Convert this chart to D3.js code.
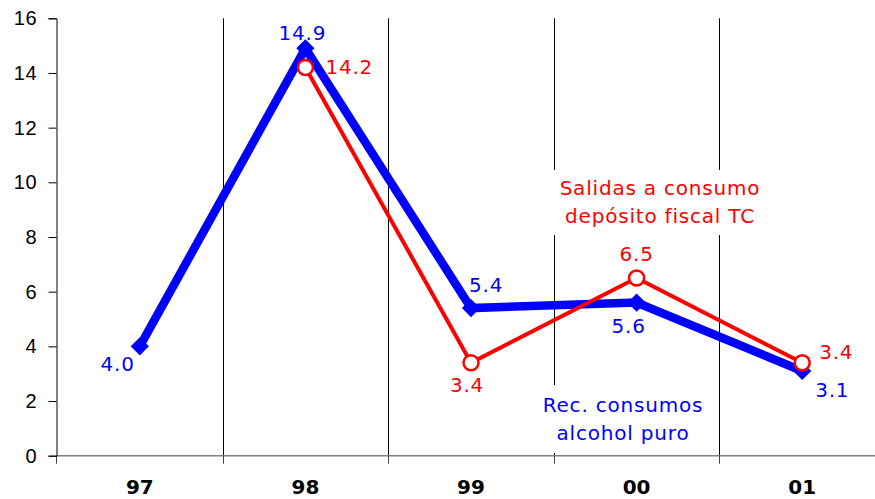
<!DOCTYPE html>
<html>
<head>
<meta charset="utf-8">
<script src="https://cdn.jsdelivr.net/npm/d3@7"></script>
<style>
  html, body { margin: 0; padding: 0; background: #fff; }
  svg { display: block; font-family: "DejaVu Sans", Verdana, sans-serif; }
  .tick text { font-size: 20px; fill: #000; letter-spacing: 0.8px; }
  .lbl { font-size: 20px; letter-spacing: 0.8px; }
</style>
</head>
<body>
<svg id="chart" width="875" height="499"></svg>
<script>
// --- Data ---
const years = ["97", "98", "99", "00", "01"];
const recConsumos = [4.0, 14.9, 5.4, 5.6, 3.1];      // blue
const salidasConsumo = [null, 14.2, 3.4, 6.5, 3.4];  // red
const yTicks = [0, 2, 4, 6, 8, 10, 12, 14, 16];

// label offsets relative to the point: [dx, dy, anchor]
const blueLabelPos = [[-5, 25, "end"], [-3, -8, "middle"], [-2, -16, "start"], [-8, 30, "middle"], [13, 26, "start"]];
const redLabelPos = [null, [20, 6, "start"], [-4, 29, "middle"], [0, -17, "middle"], [17, -4, "start"]];

const BLUE = "#0000ff";
const RED = "#ff0000";

// --- Scales ---
const svg = d3.select("#chart");
const x = d3.scaleBand().domain(years).range([57, 885]);
const y = d3.scaleLinear().domain([0, 16]).range([455.7, 18.3]);
const cx = d => x(d) + x.bandwidth() / 2;

// vertical separators between categories
const bounds = years.slice(1).map(d => Math.round(x(d)) + 0.5);
svg.append("g").selectAll("line")
    .data(bounds)
    .enter().append("line")
    .attr("x1", d => d).attr("x2", d => d)
    .attr("y1", y(16)).attr("y2", y(0))
    .attr("stroke", "#000").attr("stroke-width", 1);

// x axis (ticks at category boundaries, below the zero line)
svg.append("line")
    .attr("x1", 57).attr("x2", 875)
    .attr("y1", y(0)).attr("y2", y(0))
    .attr("stroke", "#808080").attr("stroke-width", 1.5);
svg.append("g").selectAll("line")
    .data([56.5].concat(bounds))
    .enter().append("line")
    .attr("x1", d => d).attr("x2", d => d)
    .attr("y1", y(0)).attr("y2", y(0) + 8)
    .attr("stroke", "#444").attr("stroke-width", 1);

svg.append("g").selectAll("text")
    .data(years)
    .enter().append("text")
    .attr("x", d => cx(d))
    .attr("y", 494)
    .attr("text-anchor", "middle")
    .attr("font-size", "20px")
    .attr("font-weight", "bold")
    .text(d => d);

// y axis
const yAxis = svg.append("g")
    .attr("transform", "translate(56.5,0)")
    .call(d3.axisLeft(y).tickValues(yTicks).tickSize(8).tickPadding(11).tickFormat(d3.format("d")));
yAxis.select(".domain").attr("stroke", "#000");
yAxis.selectAll(".tick line").attr("stroke", "#000");
yAxis.selectAll(".tick text").attr("font-family", null).attr("font-size", null);

// legend boxes (white background covering grid lines)
function legend(lines, color, cxPos, baselines, box) {
    svg.append("rect")
        .attr("x", box[0]).attr("y", box[1])
        .attr("width", box[2]).attr("height", box[3])
        .attr("fill", "#fff");
    lines.forEach((t, i) => {
        svg.append("text")
            .attr("class", "lbl")
            .attr("x", cxPos).attr("y", baselines[i])
            .attr("text-anchor", "middle")
            .attr("fill", color)
            .text(t);
    });
}
legend(["Salidas a consumo", "depósito fiscal TC"], RED, 660, [195, 223], [548, 170, 220, 65]);
legend(["Rec. consumos", "alcohol puro"], BLUE, 623, [412, 440], [538, 385, 170, 68]);

// --- Series ---
const line = d3.line()
    .defined(d => d.v != null)
    .x(d => cx(d.k))
    .y(d => y(d.v));

const blueData = years.map((k, i) => ({ k, v: recConsumos[i] }));
const redData = years.map((k, i) => ({ k, v: salidasConsumo[i] }));

svg.append("path")
    .datum(blueData)
    .attr("d", line)
    .attr("fill", "none")
    .attr("stroke", BLUE)
    .attr("stroke-width", 8.5);

// diamonds: squares turned 45 degrees
svg.append("g").selectAll("path")
    .data(blueData)
    .enter().append("path")
    .attr("d", d3.symbol().type(d3.symbolSquare).size(165))
    .attr("transform", d => `translate(${cx(d.k)},${y(d.v)}) rotate(45)`)
    .attr("fill", BLUE);

svg.append("path")
    .datum(redData)
    .attr("d", line)
    .attr("fill", "none")
    .attr("stroke", RED)
    .attr("stroke-width", 4);

svg.append("g").selectAll("circle")
    .data(redData.filter(d => d.v != null))
    .enter().append("circle")
    .attr("cx", d => cx(d.k))
    .attr("cy", d => y(d.v))
    .attr("r", 7.5)
    .attr("fill", "#fff")
    .attr("stroke", RED)
    .attr("stroke-width", 2.5);

// --- Value labels ---
function valueLabels(data, pos, color) {
    svg.append("g").selectAll("text")
        .data(data.map((d, i) => ({ d, p: pos[i] })).filter(o => o.d.v != null))
        .enter().append("text")
        .attr("class", "lbl")
        .attr("x", o => cx(o.d.k) + o.p[0])
        .attr("y", o => y(o.d.v) + o.p[1])
        .attr("text-anchor", o => o.p[2])
        .attr("fill", color)
        .text(o => o.d.v.toFixed(1));
}
valueLabels(blueData, blueLabelPos, BLUE);
valueLabels(redData, redLabelPos, RED);
</script>
</body>
</html>
